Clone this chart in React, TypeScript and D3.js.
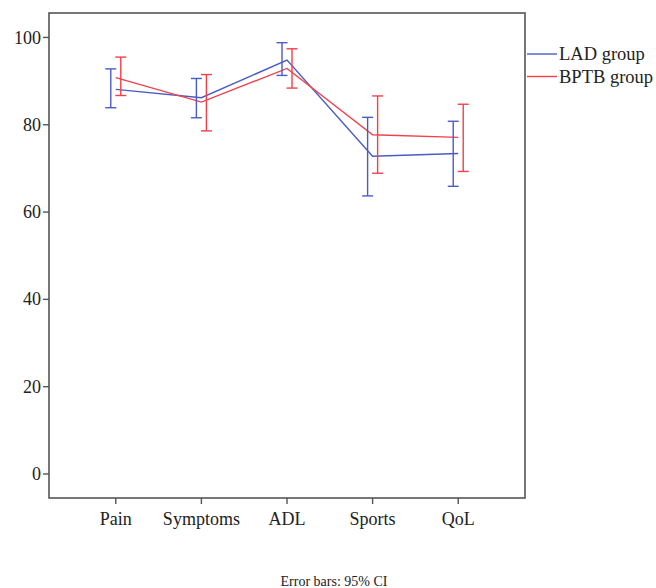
import { useMemo } from "react";
import * as d3 from "d3";

const categories = ["Pain", "Symptoms", "ADL", "Sports", "QoL"];
const yTicks = [0, 20, 40, 60, 80, 100];

// means and 95% CI bounds
const ladMean = [88.1, 86.2, 94.8, 72.8, 73.4];
const ladLow = [83.9, 81.6, 91.3, 63.7, 65.9];
const ladHigh = [92.8, 90.6, 98.8, 81.7, 80.8];

const bptbMean = [90.8, 85.2, 92.9, 77.7, 77.1];
const bptbLow = [86.7, 78.6, 88.4, 68.9, 69.3];
const bptbHigh = [95.5, 91.5, 97.4, 86.6, 84.7];

const seriesNames = ["LAD group", "BPTB group"];

export default function App() {
  const width = 656;
  const height = 588;
  const left = 49;
  const right = 525;
  const top = 13;
  const bottom = 498;
  const font = "'Liberation Serif', 'Times New Roman', serif";

  const x = d3.scalePoint<string>()
    .domain(categories)
    .range([left, right])
    .padding(0.78);

  const y = d3.scaleLinear()
    .domain([-5.5, 105.6])
    .range([bottom, top]);

  const series = useMemo(() => [
    { name: seriesNames[0], color: "#4a5cc4", mean: ladMean, low: ladLow, high: ladHigh, dx: -5 },
    { name: seriesNames[1], color: "#f2404c", mean: bptbMean, low: bptbLow, high: bptbHigh, dx: 5 }
  ], []);

  const line = d3.line<number>()
    .x((_, i) => x(categories[i]) as number)
    .y(d => y(d));

  return (
    <svg width={width} height={height} style={{ position: "absolute", left: 0, top: 0 }} fontFamily={font}>
      <rect x={0} y={0} width={width} height={height} fill="#fff" />
      {/* frame */}
      <rect x={left} y={top} width={right - left} height={bottom - top} fill="none" stroke="#555" strokeWidth={1.6} />

      {/* y axis */}
      {yTicks.map(t => (
        <g key={t} transform={`translate(0,${y(t)})`}>
          <line x1={left - 6} x2={left} stroke="#555" strokeWidth={1.4} />
          <text x={left - 8} dy="0.34em" textAnchor="end" fontSize={18} fill="#222">{t}</text>
        </g>
      ))}

      {/* x axis */}
      {categories.map(c => (
        <g key={c} transform={`translate(${x(c)},0)`}>
          <line y1={bottom} y2={bottom + 6} stroke="#555" strokeWidth={1.4} />
          <text y={525} textAnchor="middle" fontSize={18} fill="#222">{c}</text>
        </g>
      ))}

      {/* lines */}
      {series.map(s => (
        <path key={s.name} d={line(s.mean) as string} fill="none" stroke={s.color} strokeWidth={1.4} />
      ))}

      {/* error bars */}
      {series.map(s => (
        <g key={`eb-${s.name}`} stroke={s.color} strokeWidth={1.4}>
          {categories.map((c, i) => {
            const cx = (x(c) as number) + s.dx;
            return (
              <g key={c}>
                <line x1={cx} x2={cx} y1={y(s.low[i])} y2={y(s.high[i])} />
                <line x1={cx - 5.5} x2={cx + 5.5} y1={y(s.low[i])} y2={y(s.low[i])} />
                <line x1={cx - 5.5} x2={cx + 5.5} y1={y(s.high[i])} y2={y(s.high[i])} />
              </g>
            );
          })}
        </g>
      ))}

      {/* legend */}
      {series.map((s, i) => (
        <g key={`lg-${s.name}`} transform={`translate(0,${54 + i * 22.5})`}>
          <line x1={527} x2={557} stroke={s.color} strokeWidth={1.4} />
          <text x={559} dy="0.34em" fontSize={18.5} fill="#222">{s.name}</text>
        </g>
      ))}

      <text x={334} y={586} textAnchor="middle" fontSize={14} fill="#222">Error bars: 95% CI</text>
    </svg>
  );
}
